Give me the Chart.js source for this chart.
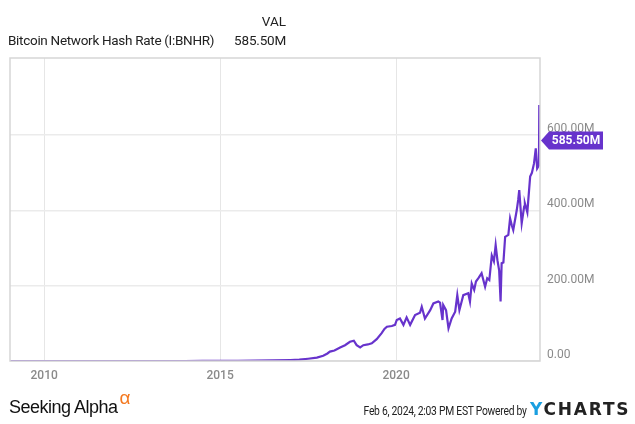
<!DOCTYPE html>
<html>
<head>
<meta charset="utf-8">
<script src="https://cdn.jsdelivr.net/npm/chart.js@4"></script>
<style>
  body { margin: 0; background: #fff; font-family: Roboto, sans-serif; }
  #wrap { position: relative; width: 635px; height: 424px; overflow: hidden; }
  #chart { position: absolute; left: 0; top: 0; }
  .txt { position: absolute; white-space: nowrap; color: #222; }
  .r { text-align: right; }
</style>
</head>
<body>
<div id="wrap">
  <canvas id="chart" width="635" height="424"></canvas>
  <div class="txt r" style="right:349px; top:13px; font-size:13.5px;">VAL</div>
  <div class="txt" style="left:8px; top:32px; font-size:13.5px; letter-spacing:-0.3px;">Bitcoin Network Hash Rate (I:BNHR)</div>
  <div class="txt r" style="right:349px; top:32px; font-size:13.5px; letter-spacing:-0.2px;">585.50M</div>
  <div class="txt" style="left:9px; top:396px; font-size:18px; font-family:'Liberation Sans', sans-serif; letter-spacing:-0.5px; color:#111;">Seeking Alpha<span style="color:#f47920; font-size:19px; position:relative; top:-9px; margin-left:2px;">α</span></div>
  <div class="txt r" style="right:108px; top:404px; font-size:12px; letter-spacing:-0.3px; transform:scaleX(0.86); transform-origin:right center;">Feb 6, 2024, 2:03 PM EST Powered by</div>
  <div class="txt" style="left:530px; top:399px; font-size:17px; font-weight:bold; letter-spacing:1.8px; font-family:'DejaVu Sans', sans-serif;"><span style="color:#1a9fe0;">Y</span>CHARTS</div>
</div>
<script>
// Bitcoin network hash rate, values in millions (M)

const dates = [
  2009.03, 2010.0, 2011.0, 2012.0, 2013.0, 2014.0, 2014.5, 2015.0, 2015.5, 2016.0,
  2016.5, 2017.0, 2017.25, 2017.5, 2017.75, 2017.93, 2018.05, 2018.12, 2018.25, 2018.41,
  2018.55, 2018.69, 2018.8, 2018.88, 2018.98, 2019.07, 2019.2, 2019.31, 2019.45, 2019.59,
  2019.67, 2019.74, 2019.88, 2019.97, 2020.02, 2020.11, 2020.21, 2020.3, 2020.4, 2020.54,
  2020.68, 2020.73, 2020.82, 2020.97, 2021.06, 2021.2, 2021.25, 2021.32, 2021.34, 2021.42,
  2021.49, 2021.58, 2021.68, 2021.74, 2021.8, 2021.91, 2022.05, 2022.1, 2022.15, 2022.22,
  2022.27, 2022.34, 2022.43, 2022.53, 2022.59, 2022.65, 2022.72, 2022.78, 2022.83, 2022.88,
  2022.93, 2022.97, 2023.0, 2023.05, 2023.1, 2023.19, 2023.24, 2023.29, 2023.33, 2023.43,
  2023.47, 2023.5, 2023.57, 2023.64, 2023.66, 2023.73, 2023.81, 2023.86, 2023.92, 2023.97,
  2024.01, 2024.06, 2024.07, 2024.09
];

const hashRate = [
  0, 0, 0, 0, 0, 0.01, 0.1, 0.3, 0.4, 0.8,
  1.5, 2.5, 3.5, 6, 9, 14, 20, 25, 28, 36,
  42, 51, 54, 42, 36, 42, 44, 47, 58, 74,
  85, 91, 93, 96, 109, 113, 96, 116, 96, 122,
  128, 144, 113, 135, 153, 158, 155, 109, 149, 135,
  87, 113, 131, 175, 135, 175, 180, 158, 206, 189,
  211, 220, 233, 197, 220, 215, 280, 265, 308, 268,
  240, 158, 260, 262, 330, 335, 379, 360, 348, 401,
  428, 454, 366, 410, 419, 395, 490, 500, 525, 565,
  512, 520, 680, 585.5
];

const xTicks = [2010, 2015, 2020];
const yTicks = [0, 200, 400, 600];
const lastLabel = "585.50M";

const purple = "#6733cc";

const frame = {
  id: "frame",
  afterDatasetsDraw(chart) {
    const a = chart.chartArea;
    const ctx = chart.ctx;
    ctx.save();
    ctx.strokeStyle = "#d6d6d6";
    ctx.lineWidth = 1.5;
    ctx.strokeRect(a.left, a.top, a.right - a.left, a.bottom - a.top);

    // value flag at the last point
    const y = chart.scales.y.getPixelForValue(hashRate[hashRate.length - 1]);
    const x0 = a.right + 1;
    ctx.fillStyle = purple;
    ctx.beginPath();
    ctx.moveTo(x0, y);
    ctx.lineTo(x0 + 8, y - 9);
    ctx.lineTo(x0 + 62, y - 9);
    ctx.lineTo(x0 + 62, y + 9);
    ctx.lineTo(x0 + 8, y + 9);
    ctx.closePath();
    ctx.fill();
    ctx.fillStyle = "#fff";
    ctx.font = "bold 12px Roboto";
    ctx.textAlign = "center";
    ctx.textBaseline = "middle";
    ctx.fillText(lastLabel, x0 + 35, y + 0.5);
    ctx.restore();
  },
};

new Chart(document.getElementById("chart"), {
  type: "line",
  data: {
    datasets: [
      {
        data: dates.map((d, i) => ({ x: d, y: hashRate[i] })),
        borderColor: purple,
        borderWidth: 2.2,
        pointRadius: 0,
        tension: 0,
        fill: false,
      },
    ],
  },
  options: {
    responsive: false,
    animation: false,
    events: [],
    layout: { padding: { left: 10, top: 58, right: 0, bottom: 0 } },
    plugins: { legend: { display: false }, tooltip: { enabled: false } },
    scales: {
      x: {
        type: "linear",
        min: 2009.03,
        max: 2024.09,
        afterBuildTicks: (s) => { s.ticks = xTicks.map((v) => ({ value: v })); },
        afterFit: (s) => { s.height = 63; },
        grid: { color: "#e6e6e6", drawTicks: false },
        border: { display: false },
        ticks: {
          padding: 8,
          color: "#8a8a8a",
          font: { family: "Roboto", size: 12, weight: "500" },
          callback: (v) => String(v),
        },
      },
      y: {
        position: "right",
        min: 0,
        max: 805,
        afterBuildTicks: (s) => { s.ticks = yTicks.map((v) => ({ value: v })); },
        afterFit: (s) => { s.width = 95; },
        grid: { color: "#ebebeb", lineWidth: 1.5, drawTicks: false },
        border: { display: false },
        ticks: {
          padding: 7,
          labelOffset: -6,
          color: "#8a8a8a",
          font: { family: "Roboto", size: 12 },
          callback: (v) => (v === 0 ? "0.00" : v.toFixed(2) + "M"),
        },
      },
    },
  },
  plugins: [frame],
});
</script>
</body>
</html>
